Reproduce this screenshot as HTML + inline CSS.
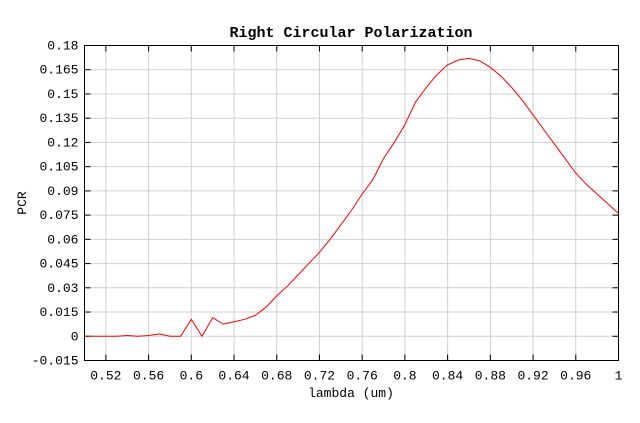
<!DOCTYPE html>
<html><head><meta charset="utf-8"><style>
body{margin:0;background:#fff;width:640px;height:418px;overflow:hidden}
text{font-family:"Liberation Mono","DejaVu Sans Mono",monospace;font-size:13px;fill:#000}
</style></head><body>
<svg id="chart" width="640" height="418" xmlns="http://www.w3.org/2000/svg">
<text x="351" y="37" text-anchor="middle" style="font-weight:bold;font-size:15px">Right Circular Polarization</text>
<text x="351" y="397" text-anchor="middle">lambda (um)</text>
<text transform="translate(26,203) rotate(-90)" text-anchor="middle">PCR</text>
<g id="grid"></g><g id="axes"></g>
</svg>
<script>
const lambda=[0.5,0.51,0.52,0.53,0.54,0.55,0.56,0.57,0.58,0.59,0.6,0.61,0.62,0.63,0.64,0.65,0.66,0.67,0.68,0.69,0.7,0.71,0.72,0.73,0.74,0.75,0.76,0.77,0.78,0.79,0.8,0.81,0.82,0.83,0.84,0.85,0.86,0.87,0.88,0.89,0.9,0.91,0.92,0.93,0.94,0.95,0.96,0.97,0.98,0.99,1.0];
const pcr=[0,0,0,0,0.0005,0,0.0005,0.0015,0,0,0.0105,0,0.0115,0.0075,0.009,0.0105,0.013,0.018,0.025,0.031,0.038,0.045,0.052,0.06,0.069,0.078,0.088,0.097,0.11,0.12,0.131,0.145,0.154,0.162,0.168,0.171,0.172,0.1705,0.1665,0.161,0.154,0.146,0.137,0.128,0.119,0.11,0.101,0.094,0.088,0.082,0.076];
const xTicks=["0.52","0.56","0.6","0.64","0.68","0.72","0.76","0.8","0.84","0.88","0.92","0.96","1"];
const yTicks=["-0.015","0","0.015","0.03","0.045","0.06","0.075","0.09","0.105","0.12","0.135","0.15","0.165","0.18"];
const L=84.5,R=618.5,T=45.5,B=360.5,x0=0.5,x1=1,y0=-0.015,y1=0.18;
const X=v=>L+(v-x0)/(x1-x0)*(R-L), Y=v=>B-(v-y0)/(y1-y0)*(B-T);
const NS="http://www.w3.org/2000/svg",svg=document.getElementById('chart'),g=document.getElementById('grid'),a=document.getElementById('axes');
function mk(t,p,at){const e=document.createElementNS(NS,t);for(const k in at)e.setAttribute(k,at[k]);p.appendChild(e);return e;}
xTicks.forEach(s=>{const x=X(+s);
 const gl=mk('line',g,{x1:x,x2:x,y1:T,y2:B,stroke:'#d0d0d0'});
 
 
 mk('line',a,{x1:x,x2:x,y1:B,y2:B-6,stroke:'#000'});
 mk('line',a,{x1:x,x2:x,y1:T,y2:T+6,stroke:'#000'});
 const t=mk('text',a,{x:x,y:B+19,'text-anchor':'middle'});t.textContent=s;
 
 });
yTicks.forEach(s=>{const y=Y(+s);
 const gl=mk('line',g,{x1:L,x2:R,y1:y,y2:y,stroke:'#d0d0d0'});
 
 
 mk('line',a,{x1:L,x2:L+6,y1:y,y2:y,stroke:'#000'});
 mk('line',a,{x1:R,x2:R-6,y1:y,y2:y,stroke:'#000'});
 const t=mk('text',a,{x:L-6,y:y+4,'text-anchor':'end'});t.textContent=s;
 
 });
const fr=mk('rect',a,{x:L,y:T,width:R-L,height:B-T,fill:'none',stroke:'#000'});


const ln=mk('polyline',svg,{fill:'none',stroke:'#ff0000','stroke-width':1,points:lambda.map((v,i)=>X(v)+','+Y(pcr[i])).join(' ')});


</script>
</body></html>
